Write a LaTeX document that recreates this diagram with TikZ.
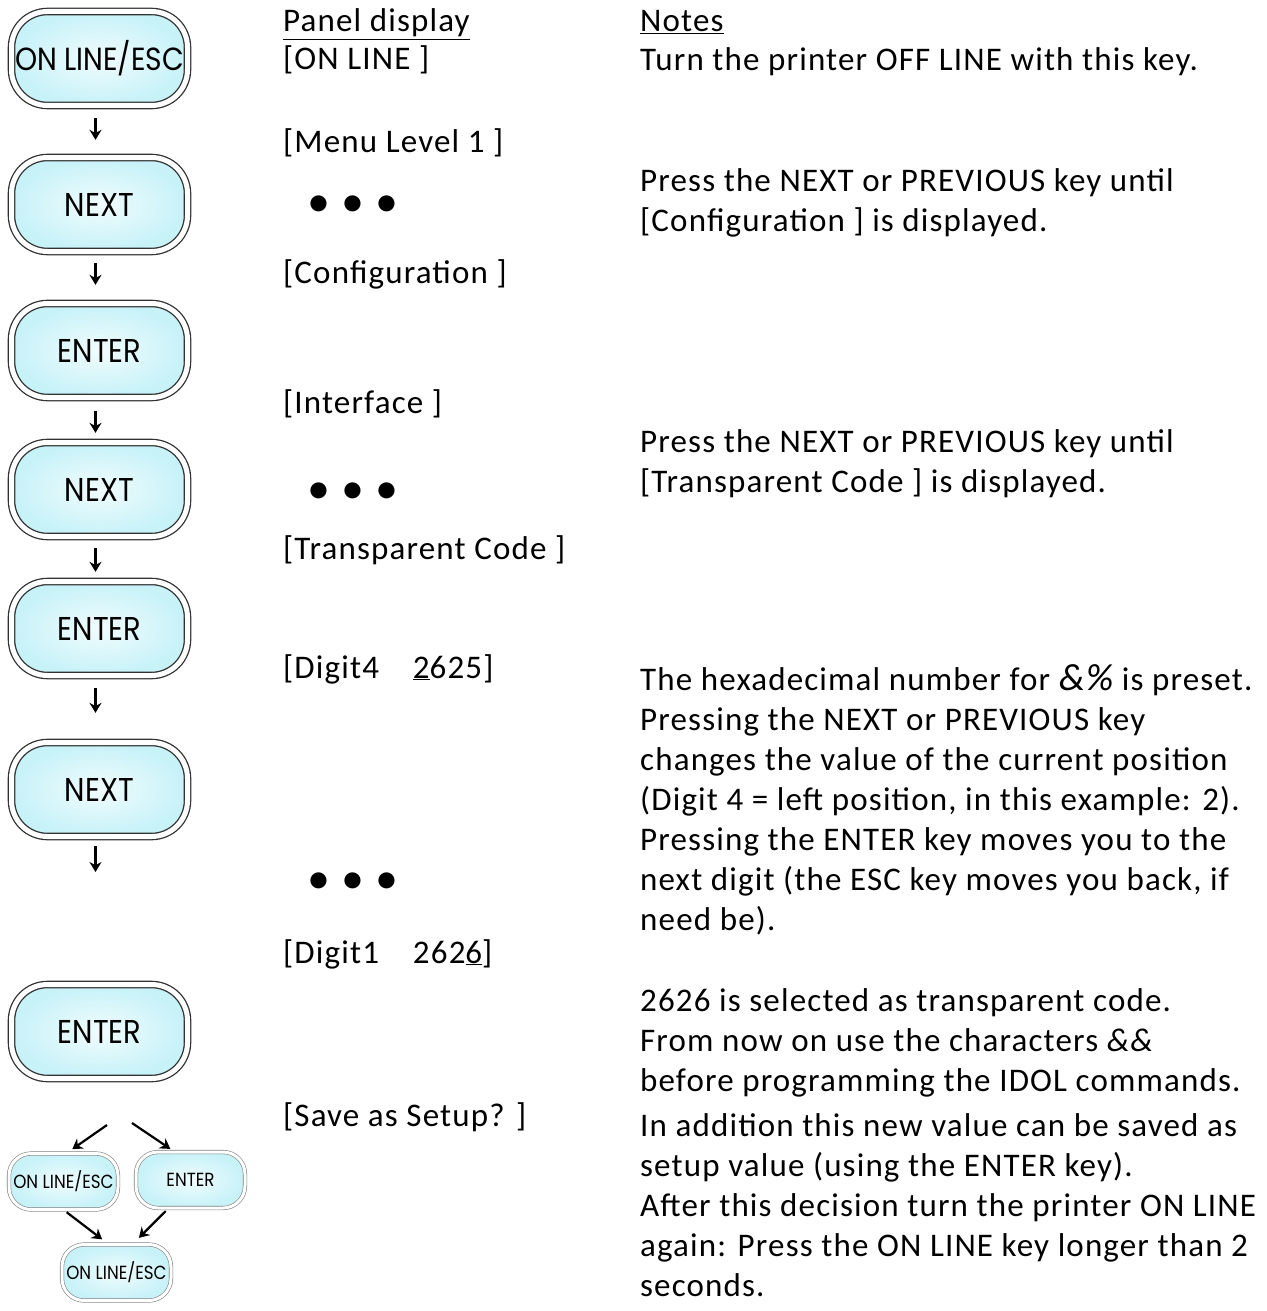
\documentclass[tikz,border=0pt]{standalone}
\usepackage{fontspec}
\setmainfont[LetterSpace=3.5]{Carlito}
\newfontfamily\keyfont[FakeStretch=0.88]{Poppins}
\usepackage{tikz}
\usetikzlibrary{positioning,arrows.meta}
\definecolor{keycyan}{RGB}{198,242,248}
\definecolor{keyedge}{RGB}{50,50,50}

\begin{document}
\begin{tikzpicture}[x=1pt, y=-1pt,
			key/.style={rectangle, rounded corners=36pt, minimum width=176pt, minimum height=94pt, inner sep=0pt, draw=keyedge, line width=1.3pt, double=white, double distance=5pt, shade, inner color=white!75!keycyan, outer color=keycyan, font=\keyfont\fontsize{33}{33}\selectfont},
			smallkey/.style={key, rounded corners=22pt, minimum width=109pt, minimum height=56pt, draw=gray, line width=0.6pt, double distance=3pt, font=\keyfont\fontsize{19}{19}\selectfont},
			arrow/.style={-{Stealth[length=10pt,width=12pt]}, line width=2.2pt},
			display/.style={anchor=base west, inner sep=0pt, font=\fontsize{33}{40}\selectfont},
			note/.style={anchor=base west, inner sep=0pt, align=left, font=\fontsize{33}{40}\selectfont},
			dots/.style={inner sep=0pt, font=\fontsize{38}{38}\selectfont\bfseries}
			]
	\useasboundingbox (0,0) rectangle (1266,1311);
	
	%% KEYS: coluna das teclas
	\node[key, font=\keyfont\fontsize{32}{32}\selectfont] (online) at (99.5,58.5) {ON LINE/ESC};
	\node[key] (next1) at (99.5,204.5) {NEXT};
	\node[key] (enter1) at (99.5,350.5) {ENTER};
	\node[key] (next2) at (99.5,489.5) {NEXT};
	\node[key] (enter2) at (99.5,628.5) {ENTER};
	\node[key] (next3) at (99.5,789.5) {NEXT};
	\coordinate (repeat) at (95.5,872);
	\node[key] (enter3) at (99.5,1031.5) {ENTER};
	
	%% KEYS: decisão final
	\coordinate (forkL) at (107,1125);
	\coordinate (forkR) at (132,1123);
	\node[smallkey] (escA) at (63.5,1181.5) {ON LINE/ESC};
	\node[smallkey] (enterB) at (190.5,1180) {ENTER};
	\node[smallkey] (escC) at (116.5,1272.5) {ON LINE/ESC};
	
	%% Setas entre as teclas
	\draw[arrow, shorten <=12pt, shorten >=17pt] ([xshift=-4pt]online.south) -- ([xshift=-4pt]next1.north);
	\draw[arrow, shorten <=11pt, shorten >=18pt] ([xshift=-4pt]next1.south) -- ([xshift=-4pt]enter1.north);
	\draw[arrow, shorten <=13pt, shorten >=9pt] ([xshift=-4pt]enter1.south) -- ([xshift=-4pt]next2.north);
	\draw[arrow, shorten <=11pt, shorten >=9pt] ([xshift=-4pt]next2.south) -- ([xshift=-4pt]enter2.north);
	\draw[arrow, shorten <=12pt, shorten >=29pt] ([xshift=-4pt]enter2.south) -- ([xshift=-4pt]next3.north);
	\draw[arrow, shorten <=9pt] ([xshift=-4pt]next3.south) -- (repeat);
	\draw[arrow, shorten >=7pt] (forkL) -- ([xshift=3pt]escA.north);
	\draw[arrow, shorten >=5pt] (forkR) -- ([xshift=-16pt]enterB.north);
	\draw[arrow, shorten <=4pt, shorten >=8pt] (escA.south) -- ([xshift=-8pt]escC.north);
	\draw[arrow, shorten <=4pt, shorten >=9pt] ([xshift=-22pt]enterB.south) -- ([xshift=16pt]escC.north);
	
	%% PANEL DISPLAY
	\node[display] (paneltitle) at (283,32) {\underline{Panel display}};
	\node[display] (online disp) at (283,70) {[ON LINE ]};
	\node[display] (menu) at (283,152) {[Menu Level 1 ]};
	\node[dots] (dotsA) at (353,205) {\textbullet\hspace{15pt}\textbullet\hspace{15pt}\textbullet};
	\node[display] (config) at (283,283) {[Configuration ]};
	\node[display] (interface) at (283,413) {[Interface ]};
	\node[dots] (dotsB) at (353,492) {\textbullet\hspace{15pt}\textbullet\hspace{15pt}\textbullet};
	\node[display] (transp) at (283,559) {[Transparent Code ]};
	\node[display] (digit4) at (283,678) {[Digit4\hspace{34pt}\underline{2}625]};
	\node[dots] (dotsC) at (353,882) {\textbullet\hspace{15pt}\textbullet\hspace{15pt}\textbullet};
	\node[display] (digit1) at (283,963) {[Digit1\hspace{34pt}262\underline{6}]};
	\node[display] (save) at (283,1126) {[Save as Setup? ]};
	
	%% NOTES
	% anchor base = linha de base da última linha
	\node[display] (notestitle) at (640,32) {\underline{Notes}};
	\node[note] (noteOff) at (640,71) {Turn the printer OFF LINE with this key.};
	\node[note] (noteConfig) at (640,231) {Press the NEXT or PREVIOUS key until\\{}[Configuration ] is displayed.};
	\node[note] (noteTransp) at (640,492) {Press the NEXT or PREVIOUS key until\\{}[Transparent Code ] is displayed.};
	\node[note] (noteHex) at (640,930) {The hexadecimal number for {\fontsize{38}{40}\selectfont\itshape\&\%} is preset.\\Pressing the NEXT or PREVIOUS key\\changes the value of the current position\\(Digit 4 = left position, in this example: 2).\\Pressing the ENTER key moves you to the\\next digit (the ESC key moves you back, if\\need be).};
	\node[note] (noteCode) at (640,1091) {2626 is selected as transparent code.\\From now on use the characters {\itshape\&\&}\\before programming the IDOL commands.};
	\node[note] (noteSave) at (640,1296) {In addition this new value can be saved as\\setup value (using the ENTER key).\\After this decision turn the printer ON LINE\\again: Press the ON LINE key longer than 2\\seconds.};
	
\end{tikzpicture}
\end{document}
